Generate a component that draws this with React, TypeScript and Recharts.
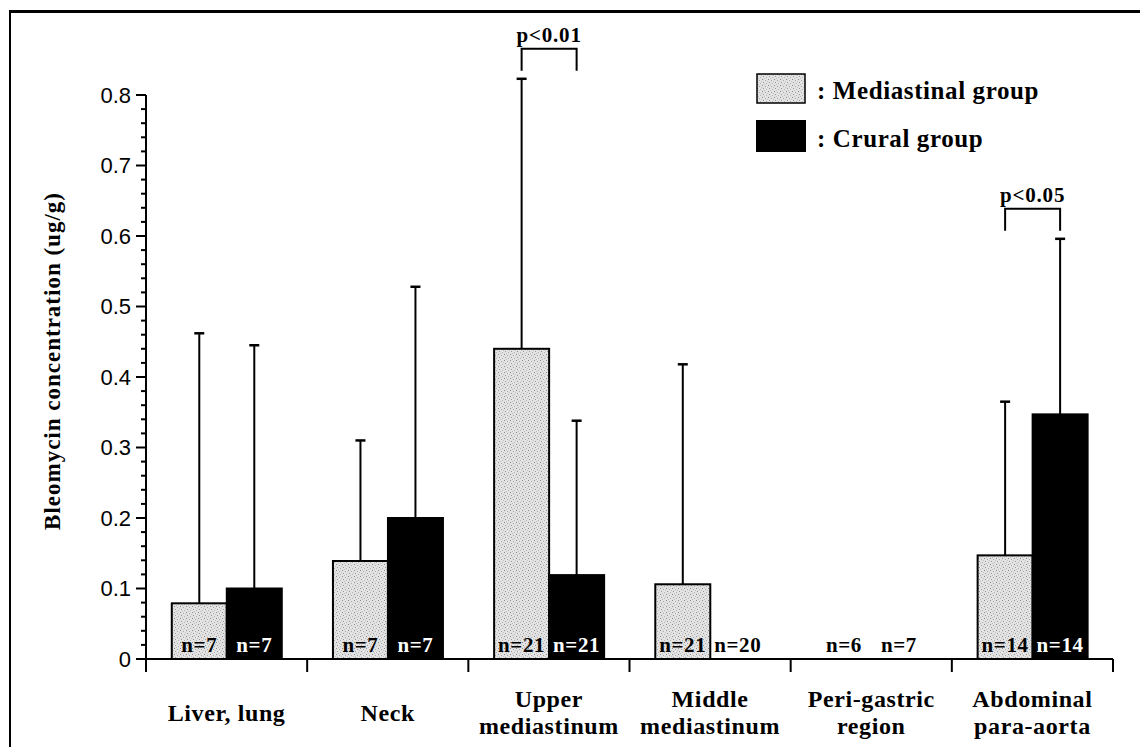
import React from "react";
import { BarChart, Bar, XAxis, YAxis, Legend, LabelList } from "recharts";

// ---------- data ----------
const categories = [
  "Liver, lung",
  "Neck",
  "Upper\nmediastinum",
  "Middle\nmediastinum",
  "Peri-gastric\nregion",
  "Abdominal\npara-aorta",
];
const mediastinalMean = [0.079, 0.139, 0.44, 0.106, 0, 0.147];
const mediastinalSD = [0.383, 0.171, 0.383, 0.312, 0, 0.218];
const cruralMean = [0.1, 0.2, 0.119, 0, 0, 0.347];
const cruralSD = [0.345, 0.328, 0.219, 0, 0, 0.249];
const mediastinalN = [7, 7, 21, 21, 6, 14];
const cruralN = [7, 7, 21, 20, 7, 14];
const significance = ["", "", "p<0.01", "", "", "p<0.05"];
const seriesNames = ["Mediastinal group", "Crural group"];
const yMajorTicks = [0, 0.1, 0.2, 0.3, 0.4, 0.5, 0.6, 0.7, 0.8];
const yMajorLabels = ["0", "0.1", "0.2", "0.3", "0.4", "0.5", "0.6", "0.7", "0.8"];
const yMinorPerMajor = 4;
const yDomain: [number, number] = [0, 0.8];
const yAxisTitle = "Bleomycin concentration (ug/g)";

const data = categories.map((cat, i) => ({
  cat,
  med: mediastinalMean[i],
  medErr: mediastinalSD[i],
  cru: cruralMean[i],
  cruErr: cruralSD[i],
  medN: mediastinalN[i],
  cruN: cruralN[i],
  sig: significance[i],
}));

const yMinorTicks: number[] = [];
for (let k = 0; k < yMajorTicks.length - 1; k++) {
  const a = yMajorTicks[k];
  const b = yMajorTicks[k + 1];
  for (let j = 1; j <= yMinorPerMajor; j++) {
    yMinorTicks.push(a + ((b - a) * j) / (yMinorPerMajor + 1));
  }
}
const allYTicks = [...yMajorTicks, ...yMinorTicks].sort((a, b) => a - b);

// ---------- styles ----------
const SERIF = "'Liberation Serif', 'Times New Roman', serif";
const SANS = "'Liberation Sans', Arial, sans-serif";
const INK = "#000";
const MED_FILL = "url(#medStipple)";

// map a value to pixel y using the plot band (background) the library provides
function makeY(props: any) {
  const { background, y, height, value } = props;
  if (background && background.height > 0) {
    return (v: number) =>
      background.y +
      background.height * (1 - (v - yDomain[0]) / (yDomain[1] - yDomain[0]));
  }
  const base = y + height;
  const ppu = value ? height / value : 0;
  return (v: number) => base - v * ppu;
}

function ErrorWhisker({ cx, yFrom, yTo }: { cx: number; yFrom: number; yTo: number }) {
  return (
    <g>
      <line x1={cx} y1={yFrom} x2={cx} y2={yTo} stroke={INK} strokeWidth={2} />
      <line x1={cx - 5} y1={yTo} x2={cx + 5} y2={yTo} stroke={INK} strokeWidth={2.5} />
    </g>
  );
}

function MedShape(props: any) {
  const { x, y, width, height, payload } = props;
  const Y = makeY(props);
  const cx = x + width / 2;
  const parts: React.ReactNode[] = [];
  if (height > 0) {
    parts.push(
      <rect key="r" x={x} y={y} width={width} height={height} fill={MED_FILL} stroke={INK} strokeWidth={2} />
    );
  }
  if (payload.medErr > 0) {
    parts.push(<ErrorWhisker key="e" cx={cx} yFrom={y} yTo={Y(payload.med + payload.medErr)} />);
  }
  if (payload.sig) {
    const top = Math.min(Y(payload.med + payload.medErr), Y(payload.cru + payload.cruErr));
    const cx2 = x + width * 1.5;
    const yb = top - 8;
    const yt = top - 30;
    parts.push(
      <g key="s">
        <polyline
          points={`${cx},${yb} ${cx},${yt} ${cx2},${yt} ${cx2},${yb}`}
          fill="none"
          stroke={INK}
          strokeWidth={2}
        />
        <text
          x={(cx + cx2) / 2}
          y={yt - 7}
          textAnchor="middle"
          fontFamily={SERIF}
          fontWeight="bold"
          fontSize={21}
          letterSpacing={0.8}
          fill={INK}
        >
          {payload.sig}
        </text>
      </g>
    );
  }
  return <g>{parts}</g>;
}

function CruShape(props: any) {
  const { x, y, width, height, payload } = props;
  const Y = makeY(props);
  const cx = x + width / 2;
  return (
    <g>
      {height > 0 && <rect x={x} y={y} width={width} height={height} fill={INK} stroke={INK} strokeWidth={2} />}
      {payload.cruErr > 0 && <ErrorWhisker cx={cx} yFrom={y} yTo={Y(payload.cru + payload.cruErr)} />}
    </g>
  );
}

function NLabel(props: any, light: boolean) {
  const { x, y, width, height, value } = props;
  const onDark = light && height > 0;
  return (
    <text
      x={Number(x) + Number(width) / 2}
      y={Number(y) + Number(height) - 7}
      textAnchor="middle"
      fontFamily={SERIF}
      fontWeight="bold"
      fontSize={21}
      letterSpacing={0.6}
      fill={onDark ? "#fff" : INK}
    >
      {`n=${value}`}
    </text>
  );
}

function YTick(props: any) {
  const { x, y, payload } = props;
  const idx = yMajorTicks.indexOf(payload.value);
  const major = idx >= 0;
  return (
    <g>
      <line x1={x - (major ? 10 : 5)} y1={y} x2={x} y2={y} stroke={INK} strokeWidth={2} />
      {major && (
        <text x={x - 15} y={y} dy="0.36em" textAnchor="end" fontFamily={SANS} fontSize={22} fill={INK}>
          {yMajorLabels[idx]}
        </text>
      )}
    </g>
  );
}

function XTick(props: any) {
  const { x, y, payload, index } = props;
  const half = payload && payload.offset ? payload.offset : (1113 - 146) / categories.length / 2;
  const lines = String(payload.value).split("\n");
  const isLast = index === categories.length - 1;
  const baseY = lines.length === 1 ? [y + 62] : [y + 48, y + 75];
  return (
    <g>
      <line x1={x - half} y1={y} x2={x - half} y2={y + 13} stroke={INK} strokeWidth={2} />
      {isLast && <line x1={x + half} y1={y} x2={x + half} y2={y + 13} stroke={INK} strokeWidth={2} />}
      {lines.map((t, i) => (
        <text
          key={i}
          x={x}
          y={baseY[i]}
          textAnchor="middle"
          fontFamily={SERIF}
          fontWeight="bold"
          fontSize={24}
          letterSpacing={0.6}
          fill={INK}
        >
          {t}
        </text>
      ))}
    </g>
  );
}

function YLabel(props: any) {
  const vb = props.viewBox || { x: 0, y: 95, width: 146, height: 564 };
  const cx = vb.x + 60;
  const cy = vb.y + vb.height / 2 - 16;
  return (
    <text
      transform={`translate(${cx},${cy}) rotate(-90)`}
      textAnchor="middle"
      fontFamily={SERIF}
      fontWeight="bold"
      fontSize={23}
      letterSpacing={1}
      fill={INK}
    >
      {yAxisTitle}
    </text>
  );
}

function LegendContent() {
  return (
    <svg width={360} height={82} style={{ display: "block", overflow: "visible" }}>
      <rect x={1} y={1} width={48} height={29} fill={MED_FILL} stroke={INK} strokeWidth={1.5} />
      <text x={61} y={26} fontFamily={SERIF} fontWeight="bold" fontSize={25} letterSpacing={0.6} fill={INK}>
        {`: ${seriesNames[0]}`}
      </text>
      <rect x={0} y={47} width={50} height={32} fill={INK} />
      <text x={61} y={74} fontFamily={SERIF} fontWeight="bold" fontSize={25} letterSpacing={0.6} fill={INK}>
        {`: ${seriesNames[1]}`}
      </text>
    </svg>
  );
}

export default function App() {
  return (
    <div style={{ position: "absolute", left: 0, top: 0, width: 1140, height: 747, background: "#fff" }}>
      <div
        style={{
          position: "absolute",
          left: 9,
          top: 10,
          width: 1131,
          height: 737,
          borderTop: "3px solid #000",
          borderLeft: "2px solid #000",
          boxSizing: "border-box",
        }}
      />
      <div style={{ position: "absolute", left: 0, top: 0 }}>
        <BarChart
          width={1140}
          height={747}
          data={data}
          margin={{ top: 95, right: 27, bottom: 0, left: 0 }}
          barCategoryGap="16%"
          barGap={0}
        >
          <defs>
            <pattern id="medStipple" width="6" height="6" patternUnits="userSpaceOnUse">
              <rect width="6" height="6" fill="#e3e3e3" />
              <rect x="0" y="0" width="1" height="1" fill="#8a8a8a" />
              <rect x="3" y="1" width="1" height="1" fill="#a6a6a6" />
              <rect x="1" y="3" width="1" height="1" fill="#979797" />
              <rect x="4" y="4" width="1" height="1" fill="#b2b2b2" />
              <rect x="5" y="2" width="1" height="1" fill="#c2c2c2" />
              <rect x="2" y="5" width="1" height="1" fill="#bdbdbd" />
            </pattern>
          </defs>
          <XAxis
            dataKey="cat"
            height={88}
            interval={0}
            tickLine={false}
            tickSize={0}
            tickMargin={0}
            axisLine={{ stroke: INK, strokeWidth: 2 }}
            tick={<XTick />}
          />
          <YAxis
            width={146}
            domain={yDomain}
            ticks={allYTicks}
            interval={0}
            tickLine={false}
            tickSize={0}
            tickMargin={0}
            axisLine={{ stroke: INK, strokeWidth: 2 }}
            tick={<YTick />}
            label={<YLabel />}
          />
          <Legend
            layout="vertical"
            align="center"
            verticalAlign="middle"
            content={<LegendContent />}
            wrapperStyle={{ position: "absolute", left: 756, top: 73, width: 360, height: 82 }}
          />
          <Bar dataKey="med" name={seriesNames[0]} isAnimationActive={false} shape={<MedShape />}>
            <LabelList dataKey="medN" content={(p: any) => NLabel(p, false)} />
          </Bar>
          <Bar dataKey="cru" name={seriesNames[1]} isAnimationActive={false} shape={<CruShape />}>
            <LabelList dataKey="cruN" content={(p: any) => NLabel(p, true)} />
          </Bar>
        </BarChart>
      </div>
    </div>
  );
}
